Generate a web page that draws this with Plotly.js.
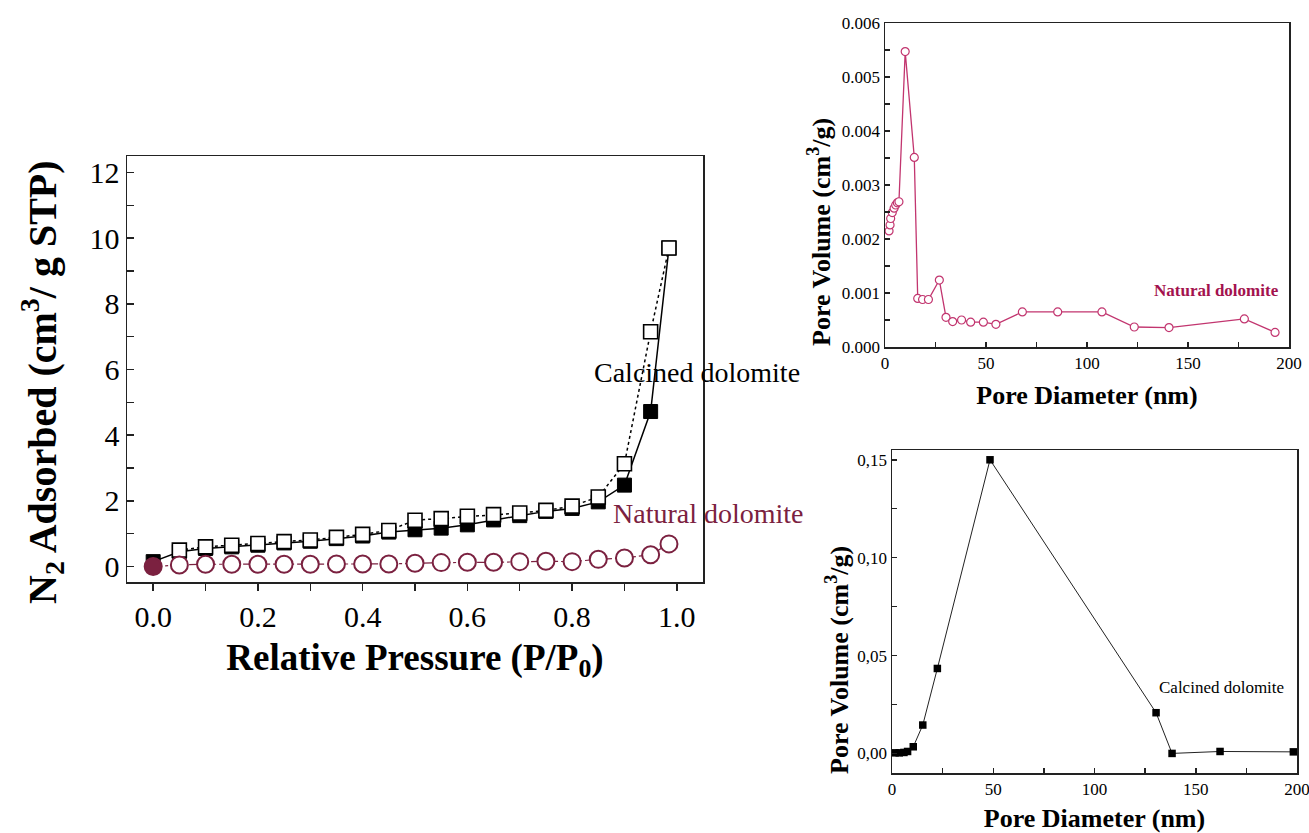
<!DOCTYPE html>
<html>
<head>
<meta charset="utf-8">
<script src="https://cdn.plot.ly/plotly-3.0.1.min.js"></script>
<style>html,body{margin:0;padding:0;background:#fff;}#chart{width:1309px;height:833px;}</style>
</head>
<body>
<div id="chart"></div>
<script>
// ---- Isotherm data (left panel) ----
const relPressure = [0, 0.05, 0.1, 0.15, 0.2, 0.25, 0.3, 0.35, 0.4, 0.45, 0.5, 0.55, 0.6, 0.65, 0.7, 0.75, 0.8, 0.85, 0.9, 0.95, 0.985];
const calcinedAdsorption = [0.15, 0.45, 0.55, 0.6, 0.65, 0.72, 0.77, 0.85, 0.93, 1.05, 1.12, 1.17, 1.27, 1.42, 1.55, 1.68, 1.77, 1.97, 2.48, 4.72, 9.7];
const desorptionPressure = [0.985, 0.95, 0.9, 0.85, 0.8, 0.75, 0.7, 0.65, 0.6, 0.55, 0.5, 0.45, 0.4, 0.35, 0.3, 0.25, 0.2, 0.15, 0.1, 0.05];
const calcinedDesorption = [9.7, 7.15, 3.13, 2.12, 1.84, 1.71, 1.63, 1.58, 1.53, 1.46, 1.41, 1.1, 0.98, 0.89, 0.81, 0.76, 0.7, 0.65, 0.6, 0.5];
const naturalAdsorption = [0.0, 0.05, 0.07, 0.07, 0.07, 0.07, 0.07, 0.08, 0.08, 0.08, 0.1, 0.12, 0.13, 0.13, 0.15, 0.16, 0.15, 0.22, 0.26, 0.36, 0.69];

// ---- Pore size distribution, natural dolomite (top right) ----
const naturalDiameter = [2.0, 2.5, 2.8, 3.6, 4.5, 5.3, 6.1, 6.9, 10.0, 14.5, 16.2, 18.6, 21.5, 26.9, 30.2, 33.5, 37.9, 42.4, 48.7, 54.9, 68.0, 85.5, 107.4, 123.4, 140.6, 177.9, 193.1];
const naturalPoreVolume = [0.00215, 0.00226, 0.00238, 0.00249, 0.00257, 0.00263, 0.00267, 0.00269, 0.00547, 0.00351, 0.00090, 0.00088, 0.00088, 0.00124, 0.00055, 0.00047, 0.00050, 0.00046, 0.00046, 0.00042, 0.00065, 0.00065, 0.00065, 0.00037, 0.00036, 0.00052, 0.00027];

// ---- Pore size distribution, calcined dolomite (bottom right) ----
const calcinedDiameter = [1.5, 3.6, 5.9, 7.7, 10.5, 15.2, 22.4, 48.4, 130.4, 138.3, 162.0, 198.2];
const calcinedPoreVolume = [0.0003, 0.0003, 0.0005, 0.0010, 0.0034, 0.0145, 0.0434, 0.150, 0.0208, 0.0000, 0.0010, 0.0008];

// ---- Tick labels ----
const calcinedVolTicks = [0, 0.05, 0.10, 0.15];
const calcinedVolTickText = ["0,00", "0,05", "0,10", "0,15"];

const W = 1309, H = 833;
const px = v => v / W;
const py = v => 1 - v / H;

const serif = "Times New Roman, Liberation Serif, serif";
const black = "#000";
const maroon = "#7b2140";
const pink = "#c2356f";

const traces = [
  { x: relPressure, y: calcinedAdsorption, xaxis: "x", yaxis: "y", mode: "lines+markers", cliponaxis: false,
    line: { color: black, width: 1.5 },
    marker: { symbol: "square", size: 14, color: black, line: { color: black, width: 1 } } },
  { x: desorptionPressure, y: calcinedDesorption, xaxis: "x", yaxis: "y", mode: "lines+markers", cliponaxis: false,
    line: { color: black, width: 1.5, dash: "dot" },
    marker: { symbol: "square", size: 14, color: "#fff", line: { color: black, width: 1.6 } } },
  { x: relPressure, y: naturalAdsorption, xaxis: "x", yaxis: "y", mode: "lines+markers", cliponaxis: false,
    line: { color: maroon, width: 1.2, dash: "dashdot" },
    marker: { symbol: "circle", size: 17, color: naturalAdsorption.map((v, i) => i === 0 ? maroon : "#fff"),
              line: { color: maroon, width: 2 } } },
  { x: naturalDiameter, y: naturalPoreVolume, xaxis: "x2", yaxis: "y2", mode: "lines+markers", cliponaxis: false,
    line: { color: pink, width: 1.3 },
    marker: { symbol: "circle", size: 8, color: "#fff", line: { color: pink, width: 1.2 } } },
  { x: calcinedDiameter, y: calcinedPoreVolume, xaxis: "x3", yaxis: "y3", mode: "lines+markers", cliponaxis: false,
    line: { color: "#222", width: 1 },
    marker: { symbol: "square", size: 7.5, color: black } }
];

const axisBase = {
  showgrid: false, zeroline: false, showline: true, mirror: true,
  linecolor: "#222", linewidth: 1.5, tickcolor: "#222", tickwidth: 1.5,
  ticklabeloverflow: "allow"
};

const layout = {
  width: W, height: H,
  margin: { l: 0, r: 0, t: 0, b: 0 },
  paper_bgcolor: "#fff", plot_bgcolor: "#fff",
  showlegend: false,
  font: { family: serif, color: black, size: 17 },
  xaxis: Object.assign({}, axisBase, {
    domain: [px(127), px(703)], anchor: "y", range: [-0.05, 1.05],
    dtick: 0.2, tick0: 0, tickformat: ".1f", ticks: "outside", ticklen: 7,
    minor: { dtick: 0.1, tick0: 0, ticks: "outside", ticklen: 7, tickwidth: 1.5, tickcolor: "#222" },
    tickfont: { size: 30, family: serif, color: black },
    title: { text: "Relative Pressure (P/P<sub>0</sub>)", standoff: 12,
             font: { size: 37, family: serif, weight: "bold" } }
  }),
  yaxis: Object.assign({}, axisBase, {
    domain: [py(582), py(156)], anchor: "x", range: [-0.47, 12.5],
    dtick: 2, tick0: 0, ticks: "inside", ticklen: 7,
    minor: { dtick: 1, tick0: 0, ticks: "inside", ticklen: 7, tickwidth: 1.5, tickcolor: "#222" },
    tickfont: { size: 30, family: serif, color: black }
  }),
  xaxis2: Object.assign({}, axisBase, {
    domain: [px(885), px(1289)], anchor: "y2", range: [0, 200],
    dtick: 50, tick0: 0, ticks: "inside", ticklen: 5,
    minor: { dtick: 25, tick0: 0, ticks: "inside", ticklen: 5, tickwidth: 1.5, tickcolor: "#222" },
    tickfont: { size: 17, family: serif, color: black },
    title: { text: "Pore Diameter (nm)", standoff: 14,
             font: { size: 26, family: serif, weight: "bold" } }
  }),
  yaxis2: Object.assign({}, axisBase, {
    domain: [py(347), py(23)], anchor: "x2", range: [0, 0.006],
    dtick: 0.001, tick0: 0, tickformat: ".3f", ticks: "inside", ticklen: 5,
    minor: { dtick: 0.0005, tick0: 0, ticks: "inside", ticklen: 5, tickwidth: 1.5, tickcolor: "#222" },
    tickfont: { size: 17, family: serif, color: black }
  }),
  xaxis3: Object.assign({}, axisBase, {
    domain: [px(892), px(1297)], anchor: "y3", range: [0, 200],
    dtick: 50, tick0: 0, ticks: "inside", ticklen: 5,
    minor: { dtick: 25, tick0: 0, ticks: "inside", ticklen: 5, tickwidth: 1.5, tickcolor: "#222" },
    tickfont: { size: 17, family: serif, color: black },
    title: { text: "Pore Diameter (nm)", standoff: 14,
             font: { size: 26, family: serif, weight: "bold" } }
  }),
  yaxis3: Object.assign({}, axisBase, {
    domain: [py(773), py(450)], anchor: "x3", range: [-0.01, 0.155],
    tickmode: "array", tickvals: calcinedVolTicks, ticktext: calcinedVolTickText,
    ticks: "inside", ticklen: 5,
    minor: { dtick: 0.025, tick0: 0, ticks: "inside", ticklen: 5, tickwidth: 1.5, tickcolor: "#222" },
    tickfont: { size: 17, family: serif, color: black }
  }),
  annotations: [
    { xref: "paper", yref: "paper", x: px(42), y: py(382), xanchor: "center", yanchor: "middle", textangle: -90,
      text: "N<sub>2</sub> Adsorbed (cm<sup>3</sup>/ g STP)", showarrow: false,
      font: { size: 40, family: serif, color: black, weight: "bold" } },
    { xref: "paper", yref: "paper", x: px(697), y: py(372), xanchor: "center", yanchor: "middle",
      text: "Calcined dolomite", showarrow: false, font: { size: 28, family: serif, color: black } },
    { xref: "paper", yref: "paper", x: px(708), y: py(513), xanchor: "center", yanchor: "middle",
      text: "Natural dolomite", showarrow: false, font: { size: 28, family: serif, color: maroon } },
    { xref: "paper", yref: "paper", x: px(1216), y: py(290), xanchor: "center", yanchor: "middle",
      text: "Natural dolomite", showarrow: false, font: { size: 17, family: serif, color: "#a3124e", weight: "bold" } },
    { xref: "paper", yref: "paper", x: px(1221), y: py(687), xanchor: "center", yanchor: "middle",
      text: "Calcined dolomite", showarrow: false, font: { size: 17, family: serif, color: black } },
    { xref: "paper", yref: "paper", x: px(820), y: py(232), xanchor: "center", yanchor: "middle", textangle: -90,
      text: "Pore Volume (cm<sup>3</sup>/g)", showarrow: false, font: { size: 26, family: serif, color: black, weight: "bold" } },
    { xref: "paper", yref: "paper", x: px(837), y: py(660), xanchor: "center", yanchor: "middle", textangle: -90,
      text: "Pore Volume (cm<sup>3</sup>/g)", showarrow: false, font: { size: 26, family: serif, color: black, weight: "bold" } }
  ]
};

Plotly.newPlot("chart", traces, layout, { displayModeBar: false, staticPlot: true });
</script>
</body>
</html>
